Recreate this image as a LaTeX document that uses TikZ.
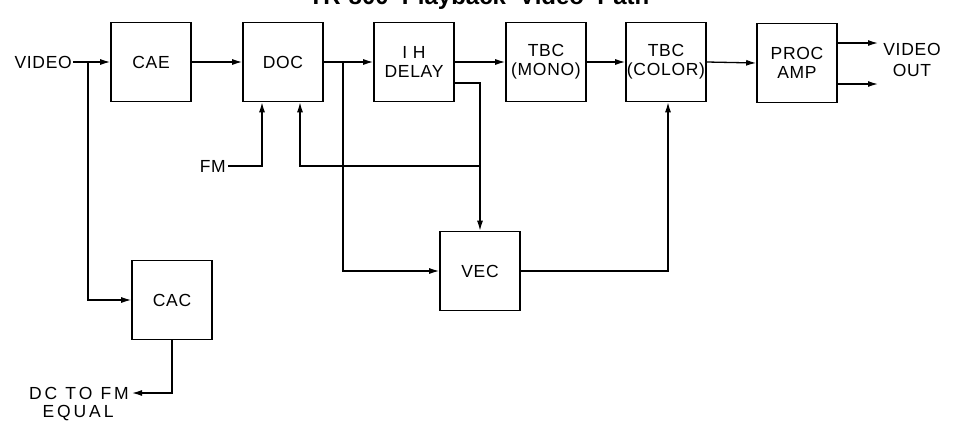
\documentclass[tikz,border=0pt]{standalone}
\usepackage{fontspec}
\setmainfont{Liberation Sans}
\newfontfamily\lblfont[LetterSpace=4]{Liberation Sans}
\newfontfamily\ttlfont{Liberation Sans}
\usetikzlibrary{arrows.meta}
\begin{document}
\begin{tikzpicture}[x=1pt,y=-1pt,
  blk/.style={draw,line width=1.6pt,minimum width=80pt,minimum height=79pt,inner sep=0pt,align=center,font=\lblfont\fontsize{17.5}{19}\selectfont},
  lbl/.style={inner sep=0pt,align=center,font=\lblfont\fontsize{17.5}{19}\selectfont},
  wire/.style={line width=1.3pt},
  arr/.style={wire,-{Latex[length=10pt,width=6pt]}}]
\useasboundingbox (0,0) rectangle (958,423);
\node[anchor=base,inner sep=0pt,font=\ttlfont\bfseries\fontsize{24}{25}\selectfont] (title) at (479,5) {TR-800\hspace{0.55em}Playback\hspace{0.55em}Video\hspace{0.55em}Path};
% blocks
\node[blk] (cae) at (151,62) {CAE};
\node[blk] (doc) at (283,62) {DOC};
\node[blk] (ih) at (414,62) {I H\\DELAY};
\node[blk] (mono) at (546,62) {TBC\\(MONO)};
\node[blk] (color) at (666,62) {TBC\\(COLOR)};
\node[blk] (proc) at (797,63) {PROC\\AMP};
\node[blk] (vec) at (480,271) {VEC};
\node[blk] (cac) at (172,300) {CAC};
% labels
\node[lbl,anchor=east] (video) at (72,62) {VIDEO};
\node[lbl,anchor=east] (fm) at (226,166) {FM};
\node[lbl] (vout) at (912,49) {VIDEO};
\node[lbl] (out) at (912,70) {OUT};
\node[lbl,anchor=east] (dc) at (129,393) {D\,C\hspace{8pt}T\,O\hspace{8pt}F\,M};
\node[lbl] (equal) at (78,413) {E\,Q\,U\,A\,L};
% coordinates
\coordinate (b1) at (88,62);
\coordinate (b2) at (343,62);
\coordinate (ihout) at ([yshift=-21pt]ih.east);
\coordinate (j) at (480,166);
\coordinate (p1) at ([yshift=20pt]proc.east);
\coordinate (p2) at ([yshift=-21pt]proc.east);
\coordinate (o1) at (878,43);
\coordinate (o2) at (878,84);
% connectors
\draw[arr] ([xshift=1pt]video.east) -- (cae.west);
\draw[arr] (b1) |- (cac.west);
\draw[arr] (cae.east) -- (doc.west);
\draw[arr] (doc.east) -- (ih.west);
\draw[arr] (b2) |- (vec.west);
\draw[arr] ([xshift=2pt]fm.east) -| ([xshift=-21pt]doc.south);
\draw[arr] (j) -| ([xshift=17pt]doc.south);
\draw[arr] (ihout) -| (vec.north);
\draw[arr] (ih.east) -- (mono.west);
\draw[arr] (mono.east) -- (color.west);
\draw[arr] (color.east) -- (proc.west);
\draw[arr] (vec.east) -| ([xshift=2pt]color.south);
\draw[arr] (p1) -- (o1);
\draw[arr] (p2) -- (o2);
\draw[arr] (cac.south) |- ([xshift=3pt]dc.east);
\end{tikzpicture}
\end{document}
